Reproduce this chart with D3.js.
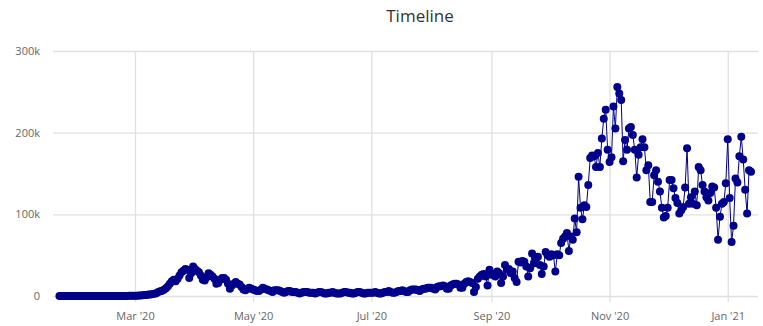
<!DOCTYPE html>
<html>
<head>
<meta charset="utf-8">
<script src="https://cdn.jsdelivr.net/npm/d3@7"></script>
<style>
  body { margin: 0; background: #fff; }
  text { font-family: "Open Sans", sans-serif; }
</style>
</head>
<body>
<div id="container"></div>
<script>
// Constants and globals
const width = 763,
  height = 326,
  margin = { top: 51, bottom: 30, left: 53, right: 5 },
  radius = 4,
  color = "#00008b",
  gridColor = "#e0e0e0"

// daily values, in thousands, one array per month (series starts Jan 22 2020)
const firstDay = new Date(Date.UTC(2020, 0, 22))
const jan20 = [0, 0, 0, 0, 0, 0, 0, 0, 0, 0]
const feb20 = [0, 0, 0, 0, 0, 0, 0, 0, 0, 0, 0, 0, 0, 0, 0, 0, 0, 0, 0, 0, 0, 0.02, 0.05, 0.1, 0.1, 0.15, 0.2, 0.25, 0.3]
const mar20 = [0.3, 0.4, 0.5, 0.6, 0.8, 1.1, 1.3, 1.7, 1.8, 2.3, 2.7, 3.5, 4.8, 5.8, 6.5, 7.8, 9.5, 12, 15, 18, 20, 18, 21, 25, 29, 31, 33, 32, 22, 28, 36]
const apr20 = [33, 31, 29, 25, 20, 19, 23, 28, 26, 24, 21, 15, 16, 20, 22, 22, 20, 15, 9, 13, 15, 17, 15, 14, 11, 8, 7, 9, 10, 9]
const may20 = [8, 7, 6, 6, 8, 10, 9, 8, 7, 6, 5, 7, 7, 7, 6, 5, 4, 5, 6, 6, 5, 5, 5, 4, 3, 4, 5, 5, 5, 4, 4]
const jun20 = [4, 3, 4, 5, 5, 4, 3, 3, 4, 4, 5, 4, 3, 3, 3, 4, 5, 5, 4, 4, 3, 3, 4, 5, 5, 4, 3, 3, 4, 4]
const jul20 = [4, 4, 5, 4, 3, 3, 4, 5, 5, 6, 5, 4, 4, 5, 6, 6, 7, 6, 5, 5, 7, 8, 8, 8, 7, 6, 8, 9, 9, 10, 10]
const aug20 = [10, 9, 8, 11, 12, 12, 13, 12, 9, 9, 13, 14, 15, 15, 14, 10, 10, 15, 17, 18, 17, 16, 5, 11, 21, 24, 26, 27, 24, 13, 32]
const sep20 = [26, 27, 24, 30, 28, 16, 24, 38, 32, 33, 28, 30, 22, 17, 42, 41, 43, 42, 36, 24, 34, 52, 40, 46, 48, 38, 27, 36, 54, 50]
const oct20 = [48, 51, 50, 30, 51, 50, 65, 70, 73, 77, 55, 73, 69, 95, 78, 146, 108, 94, 111, 109, 136, 169, 172, 171, 158, 175, 158, 193, 217, 228, 179]
const nov20 = [164, 170, 232, 205, 256, 248, 240, 165, 191, 179, 205, 207, 197, 179, 145, 173, 182, 192, 182, 154, 160, 115, 115, 148, 154, 140, 128, 108, 96, 98]
const dec20 = [108, 142, 142, 132, 120, 114, 101, 105, 109, 133, 181, 113, 121, 113, 128, 111, 158, 154, 136, 128, 121, 117, 126, 134, 133, 108, 69, 97, 113, 115, 138]
const jan21 = [192, 120, 66, 86, 144, 139, 171, 195, 167, 130, 101, 154, 152]

const yTicks = [0, 100, 200, 300]
const title = "Timeline"

const values = [].concat(jan20, feb20, mar20, apr20, may20, jun20, jul20, aug20, sep20, oct20, nov20, dec20, jan21)
const data = values.map((v, i) => ({ date: d3.utcDay.offset(firstDay, i), value: v }))

// scales
const xScale = d3.scaleUtc()
  .domain([new Date(Date.UTC(2020, 0, 18, 16)), new Date(Date.UTC(2021, 0, 16, 15))])
  .range([margin.left, width - margin.right])

const yScale = d3.scaleLinear()
  .domain([0, 300])
  .range([height - margin.bottom, margin.top])

// svg
const svg = d3.select("#container")
  .append("svg")
  .attr("width", width)
  .attr("height", height)

svg.append("text")
  .attr("x", 420)
  .attr("y", 22)
  .attr("text-anchor", "middle")
  .attr("fill", "#333333")
  .style("font-size", "17px")
  .text(title)

// x axis with vertical gridlines
const xAxis = d3.axisBottom(xScale)
  .ticks(d3.utcMonth.every(2))
  .tickFormat(d3.utcFormat("%b '%y"))
  .tickSize(-(height - margin.top - margin.bottom) - 6)
  .tickPadding(10)

svg.append("g")
  .attr("transform", `translate(0,${height - margin.bottom + 6})`)
  .call(xAxis)
  .call(g => g.select(".domain").remove())
  .call(g => g.selectAll("line").attr("stroke", gridColor).attr("stroke-width", 1.3))
  .call(g => g.selectAll("text").attr("fill", "#666666").style("font-size", "11px"))

// y axis with horizontal gridlines
const yAxis = d3.axisLeft(yScale)
  .tickValues(yTicks)
  .tickFormat(d => d === 0 ? "0" : d + "k")
  .tickSize(-(width - margin.left - margin.right))
  .tickPadding(13)

svg.append("g")
  .attr("transform", `translate(${margin.left},0)`)
  .call(yAxis)
  .call(g => g.select(".domain").remove())
  .call(g => g.selectAll("line").attr("stroke", gridColor).attr("stroke-width", 1.3))
  .call(g => g.selectAll("text").attr("fill", "#666666").style("font-size", "11px"))

// line
const line = d3.line()
  .x(d => xScale(d.date))
  .y(d => yScale(d.value))

svg.append("path")
  .datum(data)
  .attr("fill", "none")
  .attr("stroke", color)
  .attr("stroke-width", 1)
  .attr("d", line)

// circles
svg.selectAll("circle")
  .data(data)
  .join("circle")
  .attr("cx", d => xScale(d.date))
  .attr("cy", d => yScale(d.value))
  .attr("r", radius)
  .attr("fill", color)
</script>
</body>
</html>
